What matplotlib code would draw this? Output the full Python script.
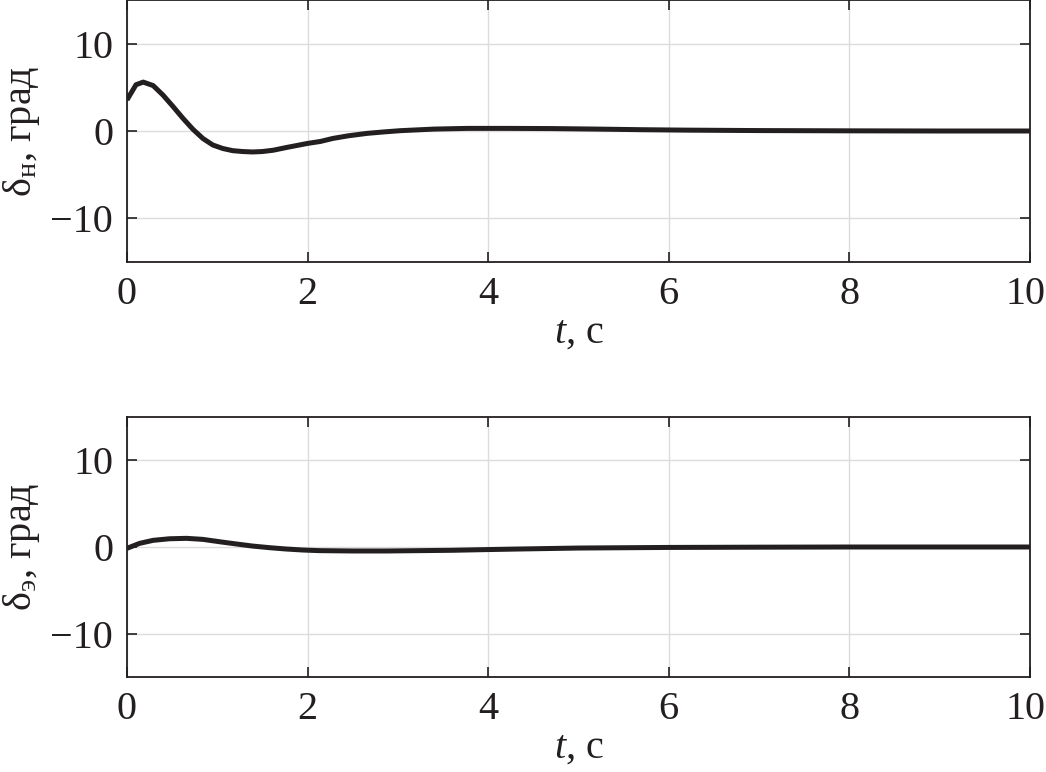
import numpy as np
import matplotlib
matplotlib.use("Agg")
import matplotlib.pyplot as plt
from matplotlib.transforms import ScaledTranslation

plt.rcParams["font.family"] = "Liberation Serif"
plt.rcParams["mathtext.fontset"] = "custom"
plt.rcParams["mathtext.rm"] = "Liberation Serif"
plt.rcParams["mathtext.it"] = "Liberation Serif:italic"

# rudder deflection (top) and elevator deflection (bottom), degrees vs time
t_top = [0, 0.1, 0.18, 0.29, 0.4, 0.51, 0.62, 0.73, 0.84, 0.95, 1.06, 1.17,
         1.28, 1.39, 1.5, 1.62, 1.76, 1.91, 2.0, 2.14, 2.28, 2.45, 2.66, 2.85,
         3.03, 3.4, 3.77, 4.2, 4.7, 5.2, 5.7, 6.2, 7.0, 8.0, 9.0, 10.0]
d_top = [3.56, 5.3, 5.6, 5.2, 4.1, 2.8, 1.45, 0.2, -0.85, -1.6, -2.0, -2.25,
         -2.35, -2.4, -2.35, -2.2, -1.9, -1.6, -1.42, -1.2, -0.85, -0.55, -0.27, -0.1,
         0.04, 0.22, 0.3, 0.3, 0.28, 0.22, 0.15, 0.1, 0.05, 0.02, 0.0, 0.0]

t_bot = [0, 0.14, 0.29, 0.47, 0.66, 0.84, 1.03, 1.21, 1.39, 1.58, 1.76, 1.95,
         2.13, 2.5, 2.87, 3.24, 3.6, 3.98, 4.35, 5.0, 6.0, 7.0, 8.0, 9.0, 10.0]
d_bot = [-0.15, 0.42, 0.77, 0.95, 1.0, 0.88, 0.6, 0.35, 0.11, -0.08, -0.23, -0.35,
         -0.42, -0.46, -0.46, -0.42, -0.38, -0.3, -0.23, -0.12, -0.05, -0.02, 0.0, 0.0, 0.0]

ylabels = ["δ$_{\\mathrm{н}}$, град", "δ$_{\\mathrm{э}}$, град"]
xticks = [0, 2, 4, 6, 8, 10]
yticks = [-10, 0, 10]

fig = plt.figure(figsize=(10.46, 7.72), dpi=100)
ax1 = fig.add_axes([0.1214, 0.6606, 0.8633, 0.3394])
ax2 = fig.add_axes([0.1214, 0.1231, 0.8633, 0.3367])

for ax, t, d, lab in [(ax1, t_top, d_top, ylabels[0]), (ax2, t_bot, d_bot, ylabels[1])]:
    ax.plot(t, d, color="#231f20", lw=3.6, solid_capstyle="butt", solid_joinstyle="round")
    ax.set_xlim(0, 10)
    ax.set_ylim(-15, 15)
    ax.set_xticks(xticks)
    ax.set_yticks(yticks)
    ax.grid(True, color="#dcdcdc", lw=1.0)
    ax.tick_params(direction="in", length=7, width=1.2, top=True, right=True,
                   labelsize=29, pad=10, colors="#231f20")
    for s in ax.spines.values():
        s.set_linewidth(1.3)
        s.set_color("#231f20")
    ax.set_xlabel("$t$, с", fontsize=29, labelpad=1, color="#231f20")
    ax.set_ylabel(lab, fontsize=29, labelpad=6, color="#231f20")
    # last x label sits a bit left so it stays inside the figure
    last = ax.get_xticklabels()[-1]
    last.set_transform(last.get_transform() + ScaledTranslation(-4 / 100, 0, fig.dpi_scale_trans))

fig.savefig("out.png", dpi=100)
